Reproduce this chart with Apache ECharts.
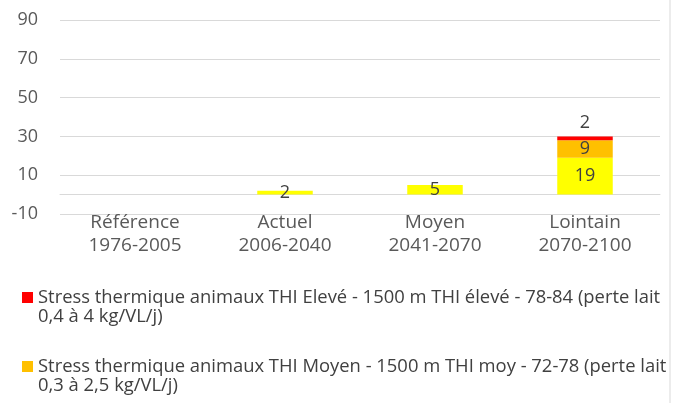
<!DOCTYPE html>
<html>
<head>
<meta charset="utf-8">
<script src="https://cdn.jsdelivr.net/npm/echarts@6/dist/echarts.min.js"></script>
<style>
html,body{margin:0;padding:0;background:#fff;}
#main{width:679px;height:403px;}
</style>
</head>
<body>
<div id="main"></div>
<script>
// périodes et valeurs (nombre de jours)
var categories = ['Référence\n1976-2005', 'Actuel\n2006-2040', 'Moyen\n2041-2070', 'Lointain\n2070-2100'];
var thiFaible = [null, 2, 5, 19];
var thiMoyen = [null, null, null, 9];
var thiEleve = [null, null, null, 2];
var yTicks = [-10, 10, 30, 50, 70, 90];

var nomEleve = 'Stress thermique animaux THI Elevé - 1500 m THI élevé - 78-84 (perte lait 0,4 à 4 kg/VL/j)';
var nomMoyen = 'Stress thermique animaux THI Moyen - 1500 m THI moy - 72-78 (perte lait 0,3 à 2,5 kg/VL/j)';
var nomFaible = 'Stress thermique animaux THI Faible - 1500 m';

var police = "'Open Sans', sans-serif";
// carré en haut + point invisible en bas : le carré reste sur la 1re ligne du texte
var iconeCarre = 'path://M0,0L11,0L11,11L0,11Z M0,30L11,30';

var myChart = echarts.init(document.getElementById('main'));

function etiquette(pos){
	return {
		show: true,
		position: pos,
		color: '#404040',
		fontSize: 18,
		fontFamily: police
	};
}

var option = {
	animation: false,
	textStyle: {fontFamily: police},
	graphic: [{
		type: 'rect',
		shape: {x: -2, y: -2, width: 672, height: 410},
		style: {fill: 'none', stroke: '#d9d9d9', lineWidth: 1}
	}],
	grid: {left: 60, right: 19, top: 20, bottom: 189},
	legend: {
		orient: 'vertical',
		left: 22,
		top: 288,
		height: 300,
		padding: 0,
		itemWidth: 11,
		itemHeight: 30,
		itemGap: 31,
		icon: iconeCarre,
		data: [nomEleve, nomMoyen],
		formatter: function(name){
			return name.replace('(perte lait ', '(perte lait\n');
		},
		textStyle: {
			color: '#404040',
			fontSize: 18.4,
			lineHeight: 19,
			fontFamily: police
		}
	},
	xAxis: {
		type: 'category',
		data: categories,
		axisTick: {show: false},
		axisLine: {onZero: true, lineStyle: {color: '#d9d9d9'}},
		axisLabel: {
			color: '#595959',
			fontSize: 19,
			lineHeight: 23,
			margin: -3,
			fontFamily: police
		}
	},
	yAxis: {
		type: 'value',
		min: -10,
		max: 90,
		interval: 20,
		axisLine: {show: false},
		axisTick: {show: false},
		splitLine: {lineStyle: {color: '#d9d9d9'}},
		axisLabel: {
			color: '#595959',
			fontSize: 18,
			margin: 22,
			fontFamily: police
		}
	},
	series: [
		{
			name: nomFaible,
			type: 'bar',
			stack: 'thi',
			barWidth: '37%',
			itemStyle: {color: '#ffff00'},
			label: etiquette('inside'),
			data: thiFaible
		},
		{
			name: nomMoyen,
			type: 'bar',
			stack: 'thi',
			itemStyle: {color: '#ffc000'},
			label: etiquette('inside'),
			data: thiMoyen
		},
		{
			name: nomEleve,
			type: 'bar',
			stack: 'thi',
			itemStyle: {color: '#ff0000'},
			label: etiquette('top'),
			data: thiEleve
		}
	]
};

myChart.setOption(option);
</script>
</body>
</html>
